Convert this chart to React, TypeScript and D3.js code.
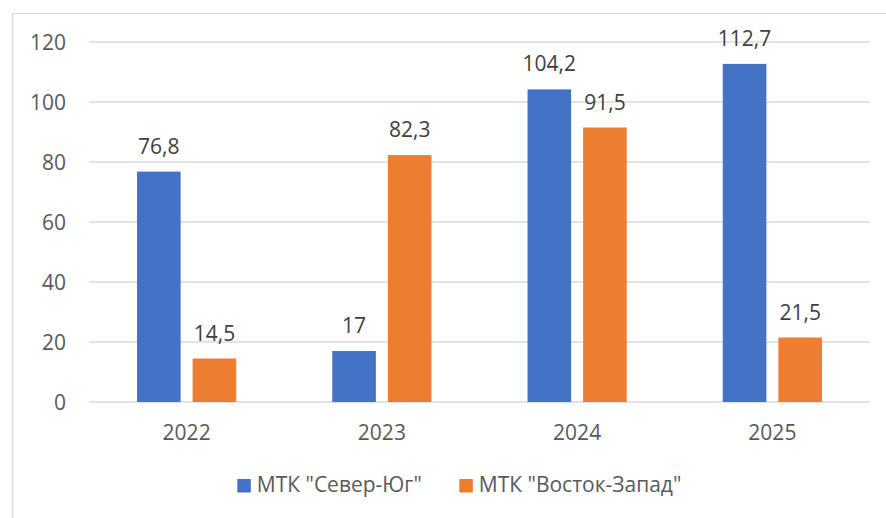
import React from "react";
import * as d3 from "d3";

const categories = ["2022", "2023", "2024", "2025"];
const seriesNames = ['МТК "Север-Юг"', 'МТК "Восток-Запад"'];
const northSouth = [76.8, 17, 104.2, 112.7];
const eastWest = [14.5, 82.3, 91.5, 21.5];
const yTicks = [0, 20, 40, 60, 80, 100, 120];
const colors = ["#4472C4", "#ED7D31"];

const W = 886;
const H = 518;
const FONT = "'Open Sans', 'Liberation Sans', sans-serif";

function fmt(v: number) {
  return String(v).replace(".", ",");
}

export default function App() {
  const x = d3.scaleBand<string>().domain(categories).range([89, 870]).padding(0);
  const y = d3.scaleLinear().domain([0, 120]).range([402, 42]);
  const barW = 43.6;
  const gap = 12;
  const series = [northSouth, eastWest];
  const fs = 21;

  return (
    <svg
      width={W}
      height={H}
      style={{ position: "absolute", left: 0, top: 0, background: "#fff" }}
      fontFamily={FONT}
    >
      <rect x={0} y={0} width={W} height={H} fill="#fff" />
      <rect x={12.5} y={13.5} width={900} height={600} fill="none" stroke="#D9D9D9" strokeWidth={1.3} />
      {yTicks.map((t) => (
        <g key={t}>
          <line x1={89} x2={870} y1={y(t)} y2={y(t)} stroke="#D9D9D9" strokeWidth={1.3} />
          <text x={66} y={y(t) + 7.5} textAnchor="end" fontSize={fs} fill="#595959">
            {t}
          </text>
        </g>
      ))}
      {categories.map((c, i) => {
        const cx = (x(c) as number) + x.bandwidth() / 2;
        const groupW = barW * 2 + gap;
        return (
          <g key={c}>
            {series.map((s, j) => {
              const bx = cx - groupW / 2 + j * (barW + gap);
              const v = s[i];
              return (
                <g key={j}>
                  <rect x={bx} y={y(v)} width={barW} height={y(0) - y(v)} fill={colors[j]} />
                  <text
                    x={bx + barW / 2}
                    y={y(v) - 18}
                    textAnchor="middle"
                    fontSize={fs}
                    fill="#404040"
                  >
                    {fmt(v)}
                  </text>
                </g>
              );
            })}
            <text x={cx} y={440} textAnchor="middle" fontSize={fs} fill="#595959">
              {c}
            </text>
          </g>
        );
      })}
      {seriesNames.map((n, j) => {
        const lx = [237.3, 459.3][j];
        return (
          <g key={n}>
            <rect x={lx} y={479} width={13.5} height={13.5} fill={colors[j]} />
            <text x={lx + 19.5} y={492} fontSize={fs} fill="#595959">
              {n}
            </text>
          </g>
        );
      })}
    </svg>
  );
}
